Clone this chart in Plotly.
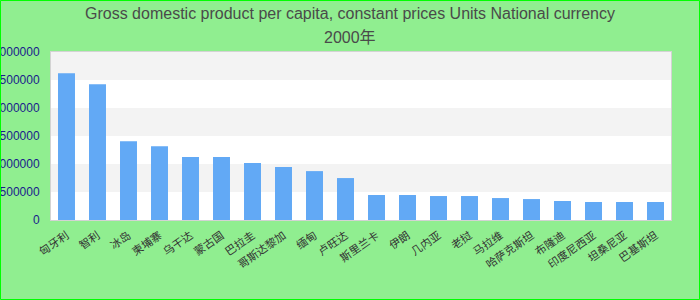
import plotly.graph_objects as go

categories = ["匈牙利", "智利", "冰岛", "柬埔寨", "乌干达", "蒙古国", "巴拉圭", "哥斯达黎加",
              "缅甸", "卢旺达", "斯里兰卡", "伊朗", "几内亚", "老挝", "马拉维", "哈萨克斯坦",
              "布隆迪", "印度尼西亚", "坦桑尼亚", "巴基斯坦"]
values = [2620000, 2424000, 1408000, 1319000, 1123000, 1123000, 1016000, 945000,
          873000, 749000, 446000, 446000, 428000, 428000, 392000, 374000,
          339000, 321000, 321000, 321000]
y_ticks = [0, 500000, 1000000, 1500000, 2000000, 2500000, 3000000]
title_line1 = "Gross domestic product per capita, constant prices Units National currency"
title_line2 = "2000年"

W, H = 700, 300
L, R, T, B = 51, 29, 52, 80
PW, PH = W - L - R, H - T - B

fig = go.Figure()
fig.add_trace(go.Bar(x=categories, y=values, marker=dict(color="#62a9f5", line=dict(width=0)),
                     hoverinfo="x+y"))

shapes = []
for i in range(len(y_ticks) - 1):
    if (len(y_ticks) - 2 - i) % 2 == 0:
        shapes.append(dict(type="rect", xref="paper", yref="y", x0=0, x1=1,
                           y0=y_ticks[i], y1=y_ticks[i + 1], fillcolor="#f3f3f3",
                           line=dict(width=0), layer="below"))
# outer figure border
shapes.append(dict(type="rect", xref="paper", yref="paper",
                   x0=(0.5 - L) / PW, x1=(W - 0.5 - L) / PW,
                   y0=-(B - 0.5) / PH, y1=1 + (T - 0.5) / PH,
                   line=dict(color="#00ff00", width=1), fillcolor="rgba(0,0,0,0)"))

title_color = "#4a4a4a"
fig.update_layout(
    width=W, height=H,
    margin=dict(l=L, r=R, t=T, b=B, autoexpand=False),
    paper_bgcolor="#90ee90", plot_bgcolor="#ffffff",
    font=dict(family="Liberation Sans, Arial, Noto Sans CJK SC, sans-serif"),
    title=dict(text=title_line1, x=0.5, xanchor="center", xref="container",
               y=1 - 13 / H, yanchor="middle", yref="container",
               font=dict(size=16, color=title_color)),
    annotations=[dict(text=title_line2, xref="paper", yref="paper",
                      x=(W / 2 - L) / PW, y=1 + (T - 37) / PH,
                      xanchor="center", yanchor="middle", showarrow=False,
                      font=dict(size=16, color=title_color))],
    bargap=0.452,
    shapes=shapes,
    showlegend=False,
)
fig.update_xaxes(showgrid=False, zeroline=False, showline=True, mirror=True,
                 linecolor="#d3d3d3", linewidth=1, tickangle=-35, automargin=False,
                 ticks="outside", ticklen=4, tickcolor="rgba(0,0,0,0)",
                 tickfont=dict(size=11, color="#333333",
                               family="Noto Sans CJK SC, sans-serif"))
fig.update_yaxes(range=[0, 3000000], tickvals=y_ticks, ticktext=[str(v) for v in y_ticks],
                 showgrid=False, zeroline=False, showline=True, mirror=True,
                 linecolor="#d3d3d3", linewidth=1, automargin=False,
                 ticks="outside", ticklen=8, tickcolor="rgba(0,0,0,0)",
                 tickfont=dict(size=12, color="#1a1a8c"))

fig.write_html("out.html", config={"displayModeBar": False},
               post_script="document.body.style.margin='0';document.body.style.overflow='hidden';")
